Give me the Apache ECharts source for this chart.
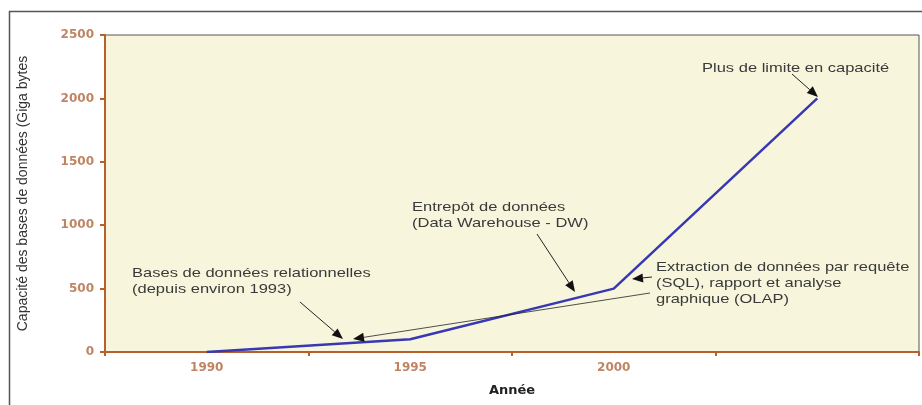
<!DOCTYPE html>
<html style="height: 100%">
<head>
    <meta charset="utf-8">
    <title>Capacité des bases de données</title>
</head>
<body style="margin: 0; background: #fff">
<div id="container" style="width: 922px; height: 405px"></div>

<script src="https://cdn.jsdelivr.net/npm/echarts@6/dist/echarts.min.js" type="text/javascript"></script>

<script type="text/javascript">

    // data
    var years = ['1990', '1995', '2000', ''];
    var capacity = [0, 100, 500, 2000];

    var yTicks = {min: 0, max: 2500, interval: 500};

    var dom = document.getElementById("container");
    var myChart = echarts.init(dom);

    var brown = '#b8602c';
    var labelBrown = '#c08462';
    var ink = '#3a3a3a';

    // arrow = line + triangular head at (x2, y2)
    function arrow(x1, y1, x2, y2, w) {
        var a = Math.atan2(y2 - y1, x2 - x1);
        var L = 11, H = 4.5;
        var bx = x2 - L * Math.cos(a), by = y2 - L * Math.sin(a);
        var px = -Math.sin(a) * H, py = Math.cos(a) * H;
        return [{
            type: 'line',
            z: 20,
            shape: {x1: x1, y1: y1, x2: bx, y2: by},
            style: {stroke: '#222', lineWidth: w || 1}
        }, {
            type: 'polygon',
            z: 20,
            shape: {points: [[x2, y2], [bx + px, by + py], [bx - px, by - py]]},
            style: {fill: '#111'}
        }];
    }

    // the source image is a little stretched sideways, hence scaleX
    function note(x, y, text) {
        return {
            type: 'text',
            z: 20,
            x: x,
            y: y,
            scaleX: 1.27,
            style: {
                text: text,
                fill: ink,
                font: '13px "Liberation Sans", Arial, sans-serif',
                lineHeight: 16,
                verticalAlign: 'top'
            }
        };
    }

    var graphics = [
        {
            type: 'rect',
            shape: {x: 9.5, y: 11.5, width: 940, height: 420},
            style: {fill: 'none', stroke: '#555', lineWidth: 1.5},
            z: 0
        },
        note(702, 60, 'Plus de limite en capacité'),
        note(412, 199, 'Entrepôt de données\n(Data Warehouse - DW)'),
        note(132, 265, 'Bases de données relationnelles\n(depuis environ 1993)'),
        note(656, 259, 'Extraction de données par requête\n(SQL), rapport et analyse\ngraphique (OLAP)')
    ];
    graphics = graphics
        .concat(arrow(792, 74, 818, 97))
        .concat(arrow(537, 234, 575, 292))
        .concat(arrow(300, 302, 343, 339))
        .concat(arrow(652, 277, 632, 279))
        .concat(arrow(650, 293, 353, 339, 0.8));

    var option = {
        animation: false,
        textStyle: {fontFamily: '"Liberation Sans", Arial, sans-serif'},
        grid: {
            left: 105,
            right: 3,
            top: 35,
            bottom: 53,
            show: true,
            backgroundColor: '#f7f6dc',
            borderColor: '#555',
            borderWidth: 1
        },
        xAxis: {
            type: 'category',
            data: years,
            boundaryGap: true,
            name: 'Année',
            nameLocation: 'middle',
            nameGap: 32,
            nameTextStyle: {color: '#222', fontSize: 13, fontWeight: 'bold', fontFamily: '"DejaVu Sans", sans-serif'},
            axisLine: {lineStyle: {color: brown, width: 2}},
            axisTick: {show: true, length: 4, lineStyle: {color: brown, width: 2}},
            axisLabel: {color: labelBrown, fontSize: 12, fontWeight: 'bold', margin: 10, fontFamily: '"DejaVu Sans", sans-serif'},
            splitLine: {show: false}
        },
        yAxis: {
            type: 'value',
            min: yTicks.min,
            max: yTicks.max,
            interval: yTicks.interval,
            name: 'Capacité des bases de données (Giga bytes',
            nameLocation: 'middle',
            nameGap: 75,
            nameTextStyle: {color: '#333', fontSize: 14},
            axisLine: {show: true, lineStyle: {color: brown, width: 2}},
            axisTick: {show: true, length: 5, lineStyle: {color: brown, width: 2}},
            axisLabel: {
                color: labelBrown, fontSize: 12, fontWeight: 'bold', margin: 11,
                fontFamily: '"DejaVu Sans", sans-serif',
                formatter: function (v) { return String(v); }
            },
            splitLine: {show: false}
        },
        series: [{
            type: 'line',
            data: capacity,
            symbol: 'none',
            lineStyle: {color: '#3838b4', width: 2.5}
        }],
        graphic: graphics
    };

    myChart.setOption(option, true);
</script>
</body>
</html>
